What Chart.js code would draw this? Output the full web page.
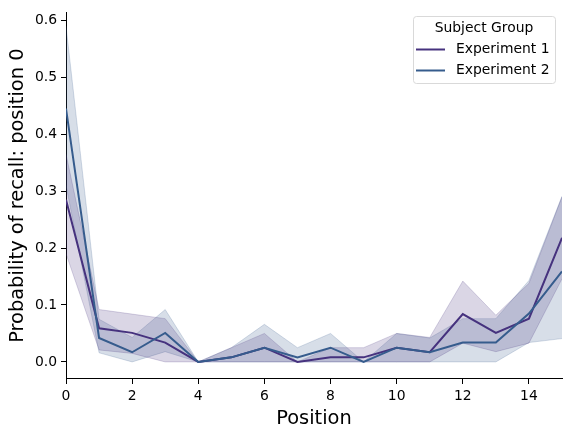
<!DOCTYPE html>
<html>
<head>
<meta charset="utf-8">
<script src="https://cdn.jsdelivr.net/npm/chart.js@4.4.1/dist/chart.umd.min.js"></script>
<style>
  body { margin: 0; background: #fff; }
</style>
</head>
<body>
<canvas id="chart" width="572" height="437"></canvas>
<script>
// data
const positions = [0, 1, 2, 3, 4, 5, 6, 7, 8, 9, 10, 11, 12, 13, 14, 15];

const exp1Mean  = [0.285, 0.059, 0.051, 0.034, 0, 0.008, 0.025, 0, 0.008, 0.008, 0.025, 0.017, 0.084, 0.051, 0.076, 0.218];
const exp1Lower = [0.19, 0.021, 0.015, 0, 0, 0, 0, 0, 0, 0, 0, 0, 0.033, 0.018, 0.033, 0.146];
const exp1Upper = [0.365, 0.092, 0.084, 0.076, 0, 0.025, 0.05, 0, 0.025, 0.025, 0.05, 0.043, 0.142, 0.082, 0.138, 0.29];

const exp2Mean  = [0.445, 0.042, 0.017, 0.051, 0, 0.008, 0.025, 0.008, 0.025, 0, 0.025, 0.017, 0.034, 0.034, 0.085, 0.159];
const exp2Lower = [0.31, 0.016, 0, 0.018, 0, 0, 0, 0, 0, 0, 0, 0, 0, 0, 0.034, 0.041];
const exp2Upper = [0.59, 0.075, 0.043, 0.092, 0, 0.025, 0.066, 0.025, 0.05, 0, 0.05, 0.042, 0.076, 0.076, 0.143, 0.291];

const groupNames = ['Experiment 1', 'Experiment 2'];
const xTicks = [0, 2, 4, 6, 8, 10, 12, 14];
const yTicks = [0.0, 0.1, 0.2, 0.3, 0.4, 0.5, 0.6];

const colors = ['#46327e', '#365c8d'];
const bandColors = ['rgba(70, 50, 126, 0.2)', 'rgba(54, 92, 141, 0.2)'];

function pts(vals) {
    return positions.map((p, i) => ({ x: p, y: vals[i] }));
}

// band = lower edge + upper edge filled to it
function band(lower, upper, k) {
    return [
        { data: pts(lower), borderColor: bandColors[k], borderWidth: 1, pointRadius: 0, fill: false, order: 2 },
        { data: pts(upper), borderColor: bandColors[k], borderWidth: 1, pointRadius: 0,
          backgroundColor: bandColors[k], fill: '-1', order: 2 }
    ];
}

const datasets = [
    ...band(exp1Lower, exp1Upper, 0),
    ...band(exp2Lower, exp2Upper, 1),
    { label: groupNames[0], data: pts(exp1Mean), borderColor: colors[0], borderWidth: 2, pointRadius: 0, fill: false, order: 1 },
    { label: groupNames[1], data: pts(exp2Mean), borderColor: colors[1], borderWidth: 2, pointRadius: 0, fill: false, order: 0 }
];

// legend box like matplotlib's
const legendBox = {
    id: 'legendBox',
    afterDraw(chart) {
        const ctx = chart.ctx;
        const x = 413, y = 16, w = 142, h = 67;
        ctx.save();
        ctx.beginPath();
        ctx.roundRect(x + 0.5, y + 0.5, w, h, 3);
        ctx.fillStyle = 'rgba(255,255,255,0.8)';
        ctx.fill();
        ctx.strokeStyle = '#d9d9d9';
        ctx.lineWidth = 1;
        ctx.stroke();
        ctx.font = '13.9px "DejaVu Sans"';
        ctx.fillStyle = '#000';
        ctx.textBaseline = 'middle';
        ctx.textAlign = 'center';
        ctx.fillText('Subject Group', x + w / 2, y + 12.5);
        ctx.textAlign = 'left';
        groupNames.forEach((name, i) => {
            const ly = y + 33.5 + i * 21;
            ctx.strokeStyle = colors[i];
            ctx.lineWidth = 2;
            ctx.beginPath();
            ctx.moveTo(x + 3, ly);
            ctx.lineTo(x + 32, ly);
            ctx.stroke();
            ctx.fillText(name, x + 43, ly);
        });
        ctx.restore();
    }
};

new Chart(document.getElementById('chart'), {
    type: 'line',
    data: { datasets: datasets },
    options: {
        responsive: false,
        animation: false,
        layout: { padding: { left: 0, top: 10, right: 10, bottom: 0 } },
        plugins: {
            legend: { display: false },
            tooltip: { enabled: false }
        },
        scales: {
            x: {
                type: 'linear',
                min: 0,
                max: 15,
                afterBuildTicks: s => { s.ticks = xTicks.map(v => ({ value: v })); },
                afterFit: s => { s.height = 58; },
                grid: { drawOnChartArea: false, drawTicks: true, tickLength: 5, color: '#000', lineWidth: 1 },
                border: { display: true, color: '#000', width: 1 },
                ticks: { color: '#000', padding: 4, maxRotation: 0, font: { family: 'DejaVu Sans', size: 13.9 } },
                title: { display: true, text: 'Position', color: '#000', padding: { top: 0, bottom: 6 },
                         font: { family: 'DejaVu Sans', size: 19.4 } }
            },
            y: {
                min: -0.03,
                max: 0.614,
                afterBuildTicks: s => { s.ticks = yTicks.map(v => ({ value: v })); },
                afterFit: s => { s.width = 66; },
                grid: { drawOnChartArea: false, drawTicks: true, tickLength: 5, color: '#000', lineWidth: 1 },
                border: { display: true, color: '#000', width: 1 },
                ticks: { color: '#000', padding: 4, font: { family: 'DejaVu Sans', size: 13.9 },
                         callback: v => v.toFixed(1) },
                title: { display: true, text: 'Probability of recall: position 0', color: '#000',
                         padding: { top: 6, bottom: 0 }, font: { family: 'DejaVu Sans', size: 19.4 } }
            }
        }
    },
    plugins: [legendBox]
});
</script>
</body>
</html>
